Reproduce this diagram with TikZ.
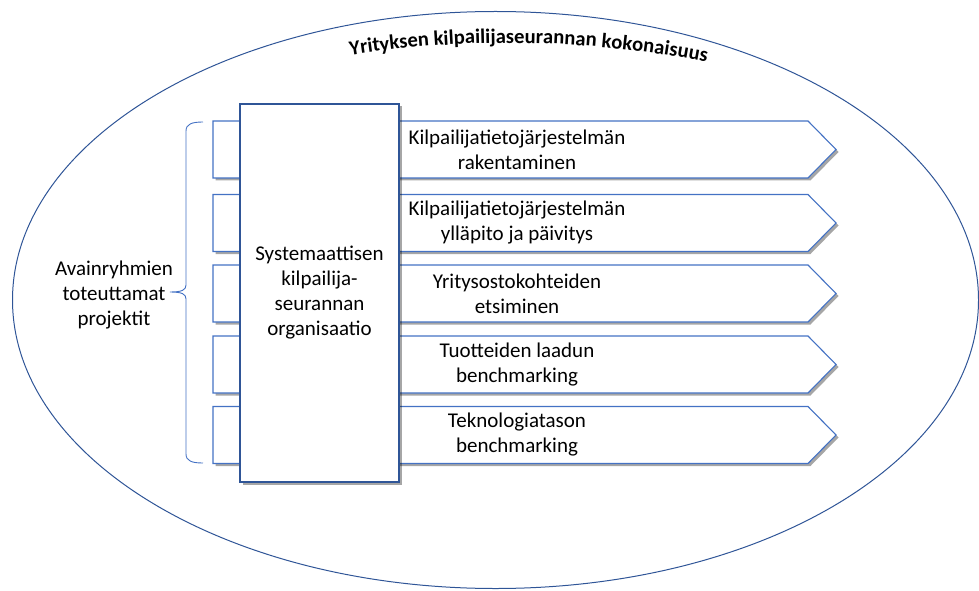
\documentclass[tikz,border=0pt]{standalone}
\usepackage{fontspec}
\setmainfont{Carlito}
\usetikzlibrary{shadows,decorations.text}
\definecolor{boxblue}{HTML}{4472C4}
\definecolor{darkblue}{HTML}{2F5597}
\begin{document}
\begin{tikzpicture}[x=1pt,y=1pt,
  txt/.style={font=\fontsize{21}{25}\selectfont, align=center, inner sep=0pt, text=black},
  shade3/.style={drop shadow={shadow xshift=2.5pt, shadow yshift=-2.5pt, fill=black, opacity=0.35}},
  pentabox/.style={draw=boxblue, line width=1.1pt, fill=white, shade3},
  orgbox/.style={txt, draw=darkblue, line width=1.1pt, fill=white, minimum width=159pt, minimum height=378pt, shade3},
  bracestyle/.style={draw=boxblue, line width=0.9pt},
  outer/.style={draw=darkblue, line width=1pt}
]
\useasboundingbox (0,0) rectangle (979,590);

% outer ellipse
\path[outer] (495.5,290) ellipse [x radius=483, y radius=288.5];

% title along arc
\path[decorate, decoration={text along path, text align=center,
  text={|\fontsize{20.6}{24}\selectfont\bfseries|Yrityksen kilpailijaseurannan kokonaisuus}}]
  (509,-482) ++(100:1029) arc[start angle=100, end angle=77.8, radius=1029];

% project arrow boxes
\foreach \yc/\n/\t in {440.5/1/{Kilpailijatietojärjestelmän\\rakentaminen},
                       367/2/{Kilpailijatietojärjestelmän\\ylläpito ja päivitys},
                       296.5/3/{Yritysostokohteiden\\etsiminen},
                       225.5/4/{Tuotteiden laadun\\benchmarking},
                       155/5/{Teknologiatason\\benchmarking}}{
  \path[pentabox] (213,\yc-28.5) -- (808,\yc-28.5) -- (836,\yc) -- (808,\yc+28.5) -- (213,\yc+28.5) -- cycle;
  \node[txt] (p\n) at (517,\yc) {\t};
}

% central organisation box
\node[orgbox] (org) at (319.5,297) {Systemaattisen\\kilpailija-\\seurannan\\organisaatio};

% brace and its label
\node[txt] (lab) at (114,295) {Avainryhmien\\toteuttamat\\projektit};
\coordinate (bt) at (170,298);
\coordinate (btop) at (203,468);
\coordinate (bbot) at (203,127);
\path[bracestyle] (btop) .. controls (192,468) and (186,466) .. (186,459)
  -- (186,305) .. controls (186,300) and (182,298) .. (bt)
  .. controls (182,298) and (186,296) .. (186,291)
  -- (186,136) .. controls (186,129) and (192,127) .. (bbot);
\end{tikzpicture}
\end{document}
